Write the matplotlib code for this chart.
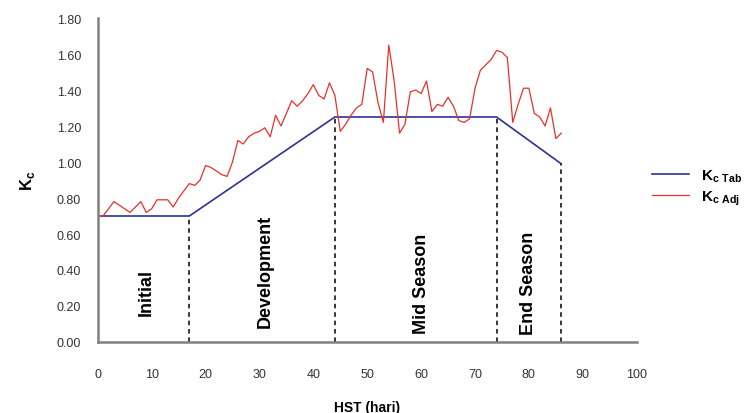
import numpy as np
import matplotlib.pyplot as plt

plt.rcParams['font.family'] = ['Liberation Sans', 'DejaVu Sans']
plt.rcParams['mathtext.fontset'] = 'custom'
plt.rcParams['mathtext.rm'] = 'Liberation Sans'
plt.rcParams['mathtext.bf'] = 'Liberation Sans:bold'

# Kc tabel (FAO) per stage boundary
stage_day = [0, 17, 44, 74, 86]
kc_tab = [0.70, 0.70, 1.25, 1.25, 0.99]

# Kc adjusted, daily values (day 0 .. 86)
hst = np.arange(0, 87)
kc_adj = [0.70, 0.70, 0.74, 0.78, 0.76, 0.74, 0.72, 0.75, 0.78, 0.72,
          0.74, 0.79, 0.79, 0.79, 0.75, 0.80, 0.84, 0.88, 0.87, 0.90,
          0.98, 0.97, 0.95, 0.93, 0.92, 1.00, 1.12, 1.10, 1.14, 1.16,
          1.17, 1.19, 1.14, 1.26, 1.20, 1.27, 1.34, 1.31, 1.34, 1.38,
          1.43, 1.37, 1.35, 1.44, 1.37, 1.17, 1.21, 1.26, 1.30, 1.32,
          1.52, 1.50, 1.33, 1.22, 1.65, 1.45, 1.16, 1.21, 1.39, 1.40,
          1.38, 1.45, 1.28, 1.32, 1.31, 1.36, 1.31, 1.23, 1.22, 1.24,
          1.41, 1.51, 1.54, 1.57, 1.62, 1.61, 1.58, 1.22, 1.32, 1.41,
          1.41, 1.27, 1.25, 1.20, 1.30, 1.13, 1.16]

stage_names = ["Initial", "Development", "Mid Season", "End Season"]
stage_label_x = [9, 31, 60, 80]
stage_label_y = [0.28, 0.40, 0.33, 0.33]

fig = plt.figure(figsize=(7.46, 4.14), dpi=100)
ax = fig.add_axes([0.131, 0.1715, 0.7225, 0.7826])

ax.plot(stage_day, kc_tab, color='#2e3192', lw=1.2, label=r'K$_{\mathbf{c\ Tab}}$')
ax.plot(hst, kc_adj, color='#e8312a', lw=0.9, label=r'K$_{\mathbf{c\ Adj}}$')

# dashed stage boundaries
for d, k in zip(stage_day[1:], kc_tab[1:]):
    ax.plot([d, d], [0, k], color='black', lw=1.1, ls=(0, (3, 2.5)))

for name, sx, sy in zip(stage_names, stage_label_x, stage_label_y):
    ax.text(sx, sy, name, rotation=90, ha='center', va='center',
            fontsize=13, fontweight='bold')

ax.set_xlim(0, 100)
ax.set_ylim(0, 1.8)
ax.set_xticks(np.arange(0, 101, 10))
ax.set_yticks(np.arange(0, 1.81, 0.2))
ax.set_yticklabels([f"{v:.2f}" for v in np.arange(0, 1.81, 0.2)])
ax.tick_params(length=0, labelsize=9, colors='#333333')
ax.tick_params(axis='x', pad=19)
ax.tick_params(axis='y', pad=12)

for s in ['top', 'right']:
    ax.spines[s].set_visible(False)
for s in ['left', 'bottom']:
    ax.spines[s].set_color('#808080')
    ax.spines[s].set_linewidth(1.8)

ax.set_xlabel('HST (hari)', fontsize=10, fontweight='bold', labelpad=14)
ax.set_ylabel(r'K$_\mathbf{c}$', fontsize=12, fontweight='bold', labelpad=14)

fig.legend(loc='center left', bbox_to_anchor=(0.856, 0.545), frameon=False,
           handlelength=2.4, labelspacing=0.3,
           prop={'weight': 'bold', 'size': 11})

fig.savefig('out.png', dpi=100)
